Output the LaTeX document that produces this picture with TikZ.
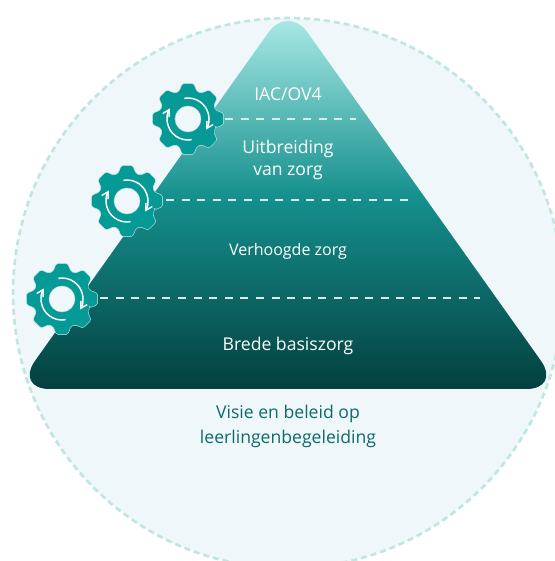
\documentclass[tikz,border=0pt]{standalone}
\usepackage{fontspec}
\setmainfont{Open Sans}
\usepackage{xcolor}
\usetikzlibrary{arrows}
\definecolor{circlefill}{HTML}{EFF7FB}
\definecolor{circleline}{HTML}{BFE6DF}
\definecolor{pyrtop}{HTML}{B4F0EC}
\definecolor{pyrmid}{HTML}{15908D}
\definecolor{pyrbot}{HTML}{03403F}
\definecolor{gearfill}{HTML}{069A97}
\definecolor{dashline}{HTML}{D5ECEA}
\definecolor{captiontext}{HTML}{0D6B68}
\tikzset{
  zone/.style={white, font=\fontsize{13.2}{15}\selectfont, inner sep=0pt},
  bottomtext/.style={captiontext, font=\fontsize{13.2}{15}\selectfont, inner sep=0pt},
  zoneline/.style={dashline, line width=2.2pt, dash pattern=on 6pt off 5.7pt},
}
\begin{document}
\begin{tikzpicture}[x=0.75pt,y=0.75pt]
\useasboundingbox (0,0) rectangle (555,561);
\clip (0,0) rectangle (555,561);

\draw [fill=circlefill, draw=circleline, line width=2pt, dash pattern=on 4.5pt off 3pt] (288,268) circle [radius=275];

\shade [top color=pyrtop, bottom color=pyrbot, middle color=pyrmid]
  (288,172) [rounded corners=26pt] -- (15,172) [rounded corners=25pt] -- (288,556) [rounded corners=26pt] -- (561,172) [sharp corners] -- cycle;

\coordinate (zonea) at (225,442);
\coordinate (zoneaend) at (356,442);
\coordinate (zoneb) at (166,361);
\coordinate (zonebend) at (408,361);
\coordinate (zonec) at (100,263);
\coordinate (zonecend) at (480,263);
\draw [zoneline] (zonea) -- (zoneaend);
\draw [zoneline] (zoneb) -- (zonebend);
\draw [zoneline] (zonec) -- (zonecend);

\foreach \gx/\gy in {188/442,127/360,62/262} {
  \begin{scope}[shift={(\gx,\gy)}]
    \draw [fill=gearfill, draw=dashline, line width=0.3pt, even odd rule, rounded corners=1.2pt]
      (-18:29) \foreach \a in {0,45,...,315} {
        -- (\a-18:29) -- (\a-9:36) -- (\a+9:36) -- (\a+18:29)
      } -- cycle
      [sharp corners] (0,0) circle [radius=13];
    \draw [white, line width=1.1pt, >=angle 60, ->] (100:21) arc (100:-30:21);
    \draw [white, line width=1.1pt, >=angle 60, ->] (-80:21) arc (-80:-210:21);
  \end{scope}
}

\node [zone] (iac) at (288,467) {IAC/OV4};
\node [zone] (uitbreiding) at (288,412) {Uitbreiding};
\node [zone] (vanzorg) at (288,388) {van zorg};
\node [zone, font=\fontsize{12}{14}\selectfont] (verhoogd) at (288,310) {Verhoogde zorg};
\node [zone] (breed) at (288,215) {Brede basiszorg};
\node [bottomtext] (visie) at (288,147) {Visie en beleid op};
\node [bottomtext] (leerling) at (288,122) {leerlingenbegeleiding};

\end{tikzpicture}
\end{document}
